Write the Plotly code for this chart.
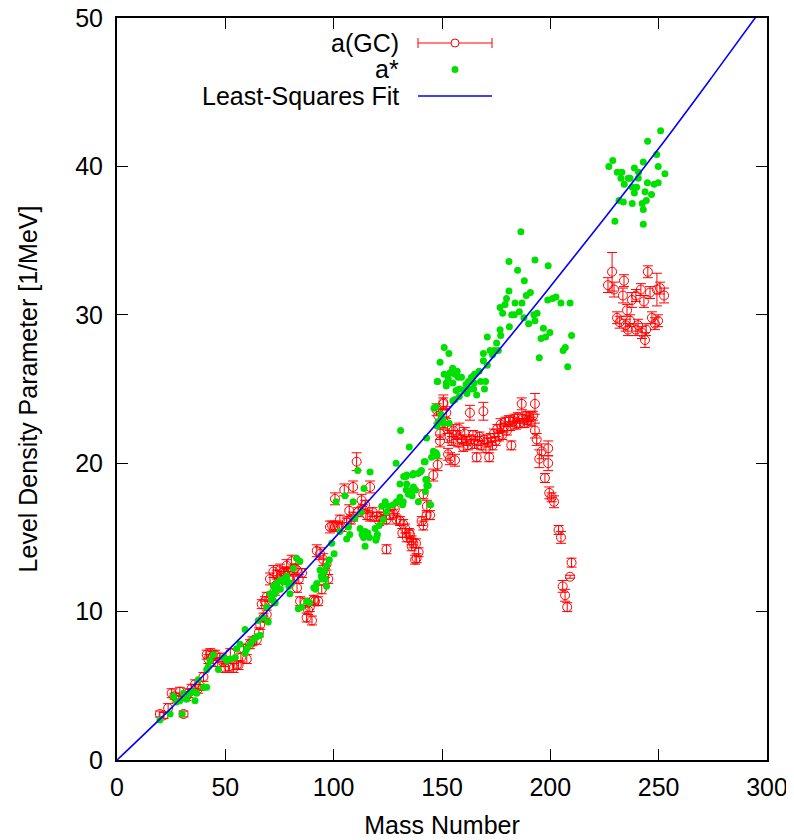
import plotly.graph_objects as go

# ---------------- a(GC) with error bars ----------------
gc_mass = [
    19.8, 21.5, 23.6, 25.2, 26.5, 27.5, 29.0, 30.7, 32.0, 32.9, 34.4, 36.0, 37.5, 38.4, 39.9,
    41.4, 42.2, 43.0, 44.2, 45.3, 46.5, 47.6, 49.0, 50.0, 51.4, 52.3, 53.8, 55.3, 56.1, 57.2, 58.4, 59.9,
    61.4, 62.5, 64.5, 65.5, 66.1, 66.8, 67.6, 68.3, 69.1, 69.1, 70.6, 71.5, 72.2, 73.0, 73.7, 74.6,
    75.2, 76.1, 76.8, 77.6, 78.3, 79.0, 79.1, 80.6, 81.4, 82.0, 83.1, 83.1, 83.9, 84.5, 85.4,
    86.8, 87.5, 88.2, 89.0, 90.0, 90.8, 91.4, 92.2, 92.9, 93.7, 94.5, 95.2, 96.0, 96.7, 97.5, 98.3, 99.3,
    100.6, 100.6, 102.0, 102.9, 103.7, 104.9, 106.0, 107.2, 108.0, 109.0, 109.0, 110.6, 111.3, 112.9, 113.5,
    114.5, 115.5, 116.8, 116.8, 118.0, 119.8, 121.0, 122.2, 123.0, 124.4, 124.4, 125.9, 127.5, 128.2, 129.0,
    130.6, 131.7, 132.1, 133.0, 133.7, 134.7, 135.2, 136.0, 136.0, 136.8, 137.6, 138.0, 138.3, 139.2, 140.6,
    141.4, 141.4, 142.9, 143.0, 144.5, 146.0, 147.5, 148.0, 148.3, 149.1, 149.1, 150.6, 150.6, 151.4, 152.0,
    152.8, 153.7,
    152.5, 153.5, 154.5, 155.2, 156.0, 156.5, 157.3, 158.0, 159.0, 159.8, 160.5, 161.3, 162.0, 162.9, 163.5,
    164.3, 165.0, 166.0, 166.5, 167.3, 168.0, 169.1, 169.5, 170.3, 171.0, 171.8, 172.5, 173.3, 174.0, 174.8,
    175.5, 176.3, 177.0, 177.8, 178.5, 179.3, 180.0, 180.8, 181.5, 182.0, 182.8, 183.5, 184.3, 185.0, 185.8,
    186.8, 187.3, 188.0, 188.8, 189.5, 190.3, 191.0, 192.0,
    192.9, 192.9, 193.7, 194.9, 196.0, 197.5, 199.0, 199.0, 199.5, 200.6, 201.7, 203.8, 204.9, 205.7, 206.8,
    207.8, 209.1, 209.8,
    226.6, 228.5, 229.4, 230.8, 232.0, 233.5, 234.0, 234.8, 235.4, 235.8, 236.8, 237.7, 239.5, 239.5, 240.5,
    241.8, 242.3, 243.2, 243.7, 244.2, 245.0, 246.0, 246.9, 248.3, 249.2, 249.7, 250.6, 252.5,
]
gc_a = [
    3.1, 3.0, 3.5, 4.5, 4.3, 4.2, 4.6, 3.1, 4.3, 4.5, 4.8, 5.1, 4.8, 5.0, 5.6,
    7.1, 6.8, 7.2, 7.0, 7.1, 6.6, 6.9, 6.6, 6.2, 6.3, 7.2, 6.2, 6.4, 6.4, 6.9, 7.5, 6.8,
    7.8, 8.0, 8.1, 8.6, 9.1, 10.5, 9.6, 10.7, 9.8, 11.0, 12.2, 10.7, 12.7, 11.4, 12.5, 11.9,
    12.8, 12.4, 12.7, 12.6, 13.1, 12.7, 12.2, 13.4, 12.2, 12.9, 12.8, 11.6, 12.2, 10.7, 12.6,
    10.6, 9.6, 10.1, 10.3, 9.4, 10.8, 10.7, 14.1, 10.7, 13.9, 11.5, 13.5, 12.6, 13.2, 12.2, 15.7, 15.8,
    15.7, 17.6, 15.8, 16.2, 15.7, 18.2, 16.0, 16.8, 16.2, 18.4, 16.4, 20.1, 16.7, 17.5, 16.9,
    17.2, 16.5, 18.4, 16.4, 16.7, 16.4, 16.1, 16.4, 16.8, 16.2, 14.2, 16.5, 16.6, 16.9, 16.2,
    16.1, 15.3, 15.9, 15.6, 15.0, 15.3, 15.2, 14.8, 14.4, 14.6, 13.5, 14.6, 13.6, 14.0, 16.1,
    15.8, 17.9, 16.5, 17.1, 16.5, 19.2, 23.6, 19.9, 23.2, 21.5, 22.0, 24.1, 24.0, 22.7, 23.4,
    20.6, 20.3,
    22.3, 21.8, 21.5, 22.2, 20.2, 21.9, 21.4, 22.3, 21.6, 21.1, 22.0, 21.5, 21.2, 23.4, 21.6,
    21.9, 21.3, 20.4, 21.5, 21.8, 21.2, 23.5, 21.6, 21.0, 21.4, 20.4, 21.7, 21.2, 22.0, 21.5,
    22.3, 21.8, 22.6, 21.9, 22.4, 22.8, 22.2, 22.9, 22.5, 21.2, 22.8, 23.0, 22.6, 23.1, 22.7,
    24.0, 23.0, 22.7, 23.2, 22.9, 23.1, 22.8, 23.2,
    24.0, 22.2, 21.6, 20.3, 20.8, 19.0, 21.0, 20.0, 18.0, 17.7, 17.4, 15.5, 15.0, 11.7, 11.1,
    10.3, 12.35, 13.3,
    32.0, 32.9, 31.7, 29.8, 29.5, 31.3, 32.3, 29.3, 30.3, 29.0, 29.6, 31.0, 31.3, 29.0, 29.3,
    31.7, 28.8, 30.9, 28.3, 29.0, 32.9, 31.5, 29.8, 29.4, 31.7, 29.6, 31.8, 31.3,
]
gc_err = [
    0.2, 0.2, 0.3, 0.3, 0.2, 0.3, 0.3, 0.2, 0.3, 0.3, 0.3, 0.3, 0.3, 0.3, 0.3,
    0.3, 0.3, 0.3, 0.3, 0.3, 0.3, 0.3, 0.3, 0.3, 0.3, 0.3, 0.3, 0.3, 0.3, 0.3, 0.3, 0.3,
    0.3, 0.3, 0.3, 0.3, 0.3, 0.3, 0.3, 0.3, 0.3, 0.3, 0.4, 0.3, 0.4, 0.3, 0.3, 0.3,
    0.4, 0.3, 0.3, 0.3, 0.4, 0.3, 0.3, 0.4, 0.3, 0.3, 0.4, 0.3, 0.3, 0.3, 0.3,
    0.3, 0.3, 0.3, 0.3, 0.3, 0.3, 0.3, 0.4, 0.3, 0.4, 0.3, 0.4, 0.3, 0.4, 0.3, 0.4, 0.3,
    0.3, 0.4, 0.3, 0.3, 0.3, 0.4, 0.3, 0.4, 0.3, 0.4, 0.3, 0.6, 0.3, 0.4, 0.3,
    0.3, 0.3, 0.4, 0.3, 0.3, 0.3, 0.3, 0.3, 0.3, 0.3, 0.3, 0.3, 0.3, 0.3, 0.3,
    0.3, 0.3, 0.3, 0.3, 0.3, 0.3, 0.3, 0.3, 0.3, 0.3, 0.3, 0.3, 0.3, 0.3, 0.3,
    0.3, 0.3, 0.3, 0.4, 0.3, 0.4, 0.4, 0.4, 0.5, 0.4, 0.4, 0.5, 0.4, 0.4, 0.4,
    0.4, 0.4,
    0.3, 0.4, 0.3, 0.4, 0.4, 0.3, 0.3, 0.4, 0.3, 0.3, 0.4, 0.3, 0.3, 0.5, 0.3,
    0.3, 0.3, 0.3, 0.3, 0.3, 0.3, 0.6, 0.3, 0.3, 0.3, 0.3, 0.3, 0.3, 0.3, 0.3,
    0.3, 0.3, 0.4, 0.3, 0.3, 0.3, 0.3, 0.3, 0.3, 0.3, 0.3, 0.3, 0.3, 0.3, 0.3,
    0.4, 0.3, 0.3, 0.3, 0.3, 0.3, 0.3, 0.3,
    0.7, 0.5, 0.4, 0.6, 0.5, 0.3, 0.5, 0.5, 0.4, 0.3, 0.4, 0.3, 0.4, 0.4, 0.4,
    0.3, 0.1, 0.3,
    0.5, 1.3, 0.5, 0.4, 0.4, 0.5, 0.4, 0.4, 0.4, 0.4, 0.4, 0.5, 0.4, 0.4, 0.4,
    0.4, 0.4, 0.4, 0.5, 0.4, 0.4, 0.4, 0.4, 0.4, 1.1, 0.4, 0.4, 0.5,
]

# ---------------- a* ----------------
star_mass = [
    19.8, 24.5, 26.0, 27.5, 29.0, 30.1, 30.7, 32.1, 33.7, 35.3, 36.0, 36.8, 37.5, 39.9, 41.4,
    41.4, 42.2, 42.9, 44.5, 46.8, 49.2, 50.7, 52.2, 54.6, 55.2, 56.8, 59.1, 59.9, 61.4, 59.1,
    63.0, 64.5, 66.1, 65.2, 67.5, 69.8, 69.1, 71.5, 72.7, 73.0, 73.8, 75.4, 77.0, 79.3,
    82.9, 84.4, 81.4, 78.3, 75.2, 73.7, 76.8, 79.0, 80.5, 72.2, 73.0, 70.6, 79.8, 71.5, 87.5,
    85.2, 83.7, 89.0, 95.8, 94.3, 92.2, 90.8, 93.7, 96.0, 91.7, 96.7, 94.6, 96.8, 98.0, 100.2, 99.1,
    101.1, 102.9, 105.2, 106.0, 106.8, 107.4, 109.0, 109.8, 111.1, 112.2, 112.6, 113.1, 113.8, 114.0, 114.5,
    114.5, 115.8, 116.5, 116.8, 119.1, 119.5, 119.8, 120.2, 121.0, 122.2, 122.9, 123.8, 124.4, 125.2, 127.5,
    128.8, 129.0, 130.6, 130.6, 130.9, 131.8, 132.1, 132.3, 133.4, 133.5, 133.7, 133.7, 134.5, 134.9, 136.0,
    136.0, 136.2, 136.5, 136.8, 136.8, 137.8, 139.0, 139.1, 139.9, 140.5, 141.8, 142.2, 142.3, 142.5, 142.9,
    142.9, 143.0, 143.7, 144.5, 144.7, 145.2, 146.0, 146.3, 146.3, 147.2, 147.2, 147.5, 147.7, 147.7, 147.8,
    148.2, 149.4, 150.3, 150.6, 152.0, 153.3,
    180.9, 192.9, 199.0, 184.9, 188.0, 180.9, 190.8, 188.9, 179.8, 183.7, 186.9, 176.8, 179.1, 178.0, 182.2,
    183.4, 185.7, 187.8, 190.0, 192.4, 193.9, 192.9, 198.8, 201.0, 202.6, 204.9, 209.1, 196.8, 199.8, 197.8,
    195.7, 209.8, 206.9, 205.9, 194.9, 208.0, 181.1, 176.8, 177.1, 175.2, 170.9, 174.2, 176.0, 172.2, 169.1,
    173.3, 169.1, 170.9, 170.1, 169.6, 167.1, 165.0, 163.6, 162.2, 161.1, 166.0, 164.6, 163.1, 161.5, 160.0,
    159.0, 157.5, 156.0, 154.9, 157.0, 152.9, 153.7, 151.0, 149.1, 151.0, 153.2, 152.0, 155.0, 148.0, 156.5,
    158.0, 156.0, 155.0, 158.0, 164.8, 167.8, 186.4,
    250.9, 244.9, 249.1, 228.8, 227.0, 242.9, 238.8, 249.8, 230.9, 233.0, 240.7, 252.9, 232.6, 236.0, 236.8,
    240.6, 234.1, 244.8, 247.9, 249.8, 237.8, 239.8, 238.8, 243.7, 246.7, 231.7, 233.7, 237.8, 242.4, 244.3,
    242.9, 229.8, 242.9,
]
star_a = [
    2.7, 3.1, 4.3, 3.9, 4.0, 3.1, 4.5, 4.1, 4.5, 4.6, 4.0, 4.5, 5.4, 4.9, 4.9,
    6.1, 6.3, 6.7, 7.1, 6.1, 6.9, 6.7, 6.8, 6.9, 7.5, 7.8, 7.2, 7.5, 7.8, 8.8,
    8.1, 8.3, 8.4, 9.4, 9.6, 9.3, 10.3, 10.8, 11.2, 10.6, 11.8, 11.5, 12.2, 11.7,
    13.6, 13.4, 12.9, 12.4, 12.1, 11.9, 12.0, 12.0, 11.9, 11.7, 11.4, 11.2, 11.2, 10.8, 10.7,
    10.3, 10.2, 10.6, 12.7, 12.4, 11.9, 11.6, 12.8, 12.2, 11.5, 11.7, 12.2, 13.1, 13.5, 13.9, 14.6,
    17.4, 15.4, 17.8, 14.9, 15.7, 15.2, 17.4, 16.3, 19.5, 15.6, 16.7, 15.2, 15.0, 18.3, 15.4,
    14.4, 15.3, 15.0, 19.4, 15.6, 14.8, 15.0, 15.2, 15.8, 17.1, 16.2, 17.4, 16.7, 17.1, 17.2,
    20.0, 17.4, 17.7, 18.6, 22.2, 17.2, 17.4, 19.1, 19.1, 18.2, 19.2, 18.6, 17.9, 21.1, 18.1,
    18.2, 17.8, 19.2, 18.4, 19.3, 18.2, 19.3, 17.4, 19.4, 19.5, 20.1, 20.1, 18.1, 18.9, 21.7,
    18.9, 18.5, 18.5, 17.2, 17.2, 20.4, 20.8, 20.7, 23.7, 20.7, 23.8, 20.6, 20.5, 22.5, 25.5,
    22.8, 23.3, 23.0, 22.7, 25.2, 22.7,
    33.6, 33.7, 33.3, 33.0, 32.3, 31.6, 31.5, 31.3, 31.1, 30.8, 30.8, 30.5, 30.7, 30.1, 30.0,
    30.0, 30.2, 29.8, 29.4, 30.0, 30.1, 29.6, 31.0, 31.1, 31.2, 30.8, 30.8, 29.1, 28.8, 28.5,
    28.4, 28.6, 27.8, 27.6, 27.1, 26.5, 29.2, 29.0, 28.6, 28.1, 28.5, 27.6, 27.6, 27.6, 27.4,
    27.3, 26.9, 26.6, 25.5, 25.0, 26.2, 26.0, 25.8, 25.5, 25.3, 24.6, 25.0, 25.0, 24.7, 24.9,
    25.8, 25.8, 26.0, 26.4, 26.2, 25.7, 26.1, 26.0, 26.8, 27.8, 27.4, 25.4, 25.4, 25.5, 24.9,
    25.0, 24.3, 24.2, 24.5, 25.4, 25.5, 35.6,
    42.4, 41.7, 40.8, 40.4, 40.0, 40.3, 39.9, 40.0, 39.6, 39.6, 39.6, 39.5, 39.2, 39.2, 39.2,
    39.2, 38.8, 38.9, 38.8, 38.9, 38.6, 38.6, 38.2, 38.3, 38.1, 37.7, 37.6, 37.5, 37.5, 37.7,
    37.1, 36.3, 36.1,
]

# ---------------- Least-squares fit ----------------
fit_mass = [0, 25, 50, 75, 100, 125, 150, 175, 200, 225, 250, 275, 300]
fit_a = [0, 3.5, 7.2, 10.9, 14.9, 18.9, 23.1, 27.4, 31.9, 36.5, 41.2, 46.1, 51.1]

x_ticks = [0, 50, 100, 150, 200, 250, 300]
y_ticks = [0, 10, 20, 30, 40, 50]

assert len(gc_mass) == len(gc_a) == len(gc_err)
assert len(star_mass) == len(star_a)

RED = "#ff0000"
GREEN = "#00e000"
BLUE = "#0000ff"
FONT = "Liberation Sans, Arial, Helvetica, sans-serif"
FS = 25

fig = go.Figure()
fig.add_trace(go.Scatter(
    x=gc_mass, y=gc_a, mode="markers", name="a(GC)",
    marker=dict(symbol="circle-open", size=9, color=RED, line=dict(width=1, color=RED)),
    error_y=dict(type="data", array=gc_err, visible=True, color=RED, thickness=1, width=5),
    showlegend=False,
))
fig.add_trace(go.Scatter(
    x=star_mass, y=star_a, mode="markers", name="a*",
    marker=dict(symbol="circle", size=7, color=GREEN),
    showlegend=False,
))
fig.add_trace(go.Scatter(
    x=fit_mass, y=fit_a, mode="lines", name="Least-Squares Fit",
    line=dict(color=BLUE, width=1.6, shape="spline"),
    showlegend=False,
))

# target plot area on the page: x 117..767, y 18..760 (page has an 8 px body offset)
OFF = 8
PL, PT, PR, PB = 117, 18, 767, 760
W, H = 794, 840
pw, ph = PR - PL, PB - PT
ML, MT = PL - OFF, PT - OFF
MR, MB = W - ML - pw, H - MT - ph

def px(xp):
    return (xp - PL) / pw

def py(yp):
    return (PB - yp) / ph

# gnuplot-style key (text right-aligned, sample to the right)
shapes = []
annotations = []
key_rows = [("a(GC)", 43), ("a*", 69.5), ("Least-Squares Fit", 96)]
for label, yy in key_rows:
    annotations.append(dict(
        x=px(401), y=py(yy), xref="paper", yref="paper", text=label,
        showarrow=False, xanchor="right", yanchor="middle",
        font=dict(family=FONT, size=FS, color="black"),
    ))
y0 = py(43)
shapes.append(dict(type="line", xref="paper", yref="paper", x0=px(418), x1=px(492), y0=y0, y1=y0,
                   line=dict(color=RED, width=1)))
for xx in (418, 492):
    shapes.append(dict(type="line", xref="paper", yref="paper", x0=px(xx), x1=px(xx),
                       y0=py(38), y1=py(48), line=dict(color=RED, width=1)))
shapes.append(dict(type="circle", xref="paper", yref="paper", x0=px(451), x1=px(459),
                   y0=py(39), y1=py(47), line=dict(color=RED, width=1), fillcolor="white"))
shapes.append(dict(type="circle", xref="paper", yref="paper", x0=px(451.5), x1=px(458.5),
                   y0=py(66), y1=py(73), line=dict(color=GREEN, width=0), fillcolor=GREEN))
shapes.append(dict(type="line", xref="paper", yref="paper", x0=px(418), x1=px(492),
                   y0=py(96), y1=py(96), line=dict(color=BLUE, width=1.6)))

axis_common = dict(
    showgrid=False, zeroline=False, showline=True, linecolor="black", linewidth=2,
    ticks="inside", ticklen=11, tickwidth=1, tickcolor="black", mirror="ticks",
    tickfont=dict(family=FONT, size=FS, color="black"), automargin=False,
    ticklabeloverflow="allow",
)
fig.update_layout(
    width=W, height=H,
    margin=dict(l=ML, r=MR, t=MT, b=MB, autoexpand=False),
    paper_bgcolor="white", plot_bgcolor="white",
    xaxis=dict(range=[0, 300], tickvals=x_ticks, ticklabelstandoff=4,
               title=dict(text="Mass Number", standoff=16,
                          font=dict(family=FONT, size=FS, color="black")),
               **axis_common),
    yaxis=dict(range=[0, 50], tickvals=y_ticks, ticklabelstandoff=7,
               title=dict(text="Level Density Parameter [1/MeV]", standoff=30,
                          font=dict(family=FONT, size=FS, color="black")),
               **axis_common),
    shapes=shapes, annotations=annotations, showlegend=False,
)
fig.write_html("out.html")
